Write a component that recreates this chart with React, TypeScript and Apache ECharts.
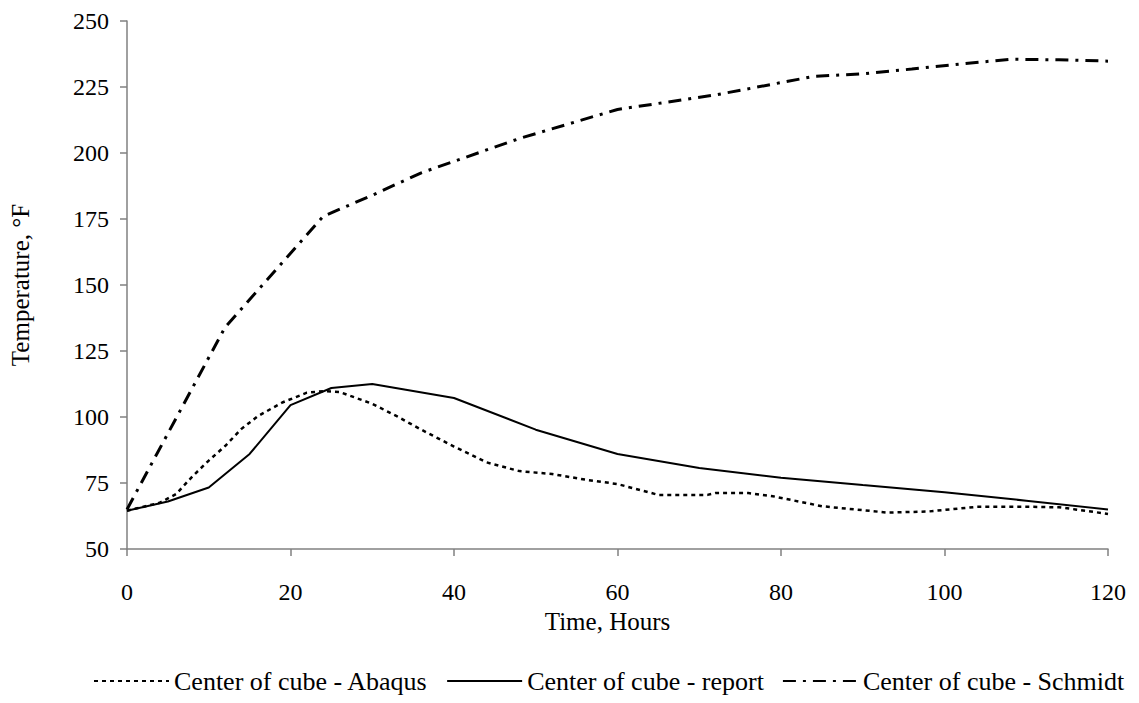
import React, { useEffect, useRef } from "react";
import * as echarts from "echarts";

const abaqusHours = [0, 4, 6, 8, 10, 12, 14, 16, 19, 22, 24, 26, 30, 33, 36, 40, 44, 48, 52, 56, 60, 65, 71, 72, 76, 79, 85, 90, 93, 98, 100, 104, 110, 114, 116, 120];
const abaqusTemps = [64.5, 67.5, 70.8, 77.5, 83.5, 89, 95.5, 100.3, 105.5, 109.2, 109.8, 109.5, 105, 100.3, 95.2, 88.8, 82.8, 79.5, 78.4, 76.3, 74.6, 70.5, 70.5, 71.2, 71.2, 70, 66.2, 64.7, 63.8, 64.2, 64.8, 66, 66, 65.8, 65, 63.3];

const reportHours = [0, 5, 10, 15, 20, 25, 30, 40, 50, 60, 70, 80, 90, 100, 110, 120];
const reportTemps = [64.5, 68, 73.3, 86, 104.5, 111, 112.5, 107.2, 95.2, 86, 80.7, 77, 74.2, 71.5, 68.3, 65];

const schmidtHours = [0, 12, 24, 30, 36, 48, 60, 72, 84, 90, 96, 102, 108, 114, 120];
const schmidtTemps = [65, 134, 176, 184, 192.5, 205.5, 216.5, 222, 229, 230, 231.8, 233.7, 235.5, 235.3, 234.8];

const seriesNames = ["Center of cube - Abaqus", "Center of cube - report", "Center of cube - Schmidt"];
const xTitle = "Time, Hours";
const yTitle = "Temperature, °F";

const zip = (xs: number[], ys: number[]) => xs.map((x, i) => [x, ys[i]]);

export default function App() {
  const ref = useRef<HTMLDivElement>(null);
  useEffect(() => {
    if (!ref.current) return;
    const chart = echarts.init(ref.current, undefined, { renderer: "svg" });
    const font = "'Liberation Serif', 'Times New Roman', serif";
    const tickFs = 24;
    const titleFs = 25;
    chart.setOption({
      animation: false,
      backgroundColor: "#ffffff",
      textStyle: { fontFamily: font, color: "#000" },
      grid: { left: 123, right: 31, top: 21, bottom: 154, containLabel: false },
      legend: {
        left: 88,
        top: 663,
        itemWidth: 75,
        itemHeight: 14,
        itemGap: 18,
        itemStyle: { opacity: 0 },
        textStyle: { fontFamily: font, fontSize: 26, color: "#000" },
        data: seriesNames,
      },
      xAxis: {
        type: "value",
        min: 0,
        max: 120,
        interval: 20,
        name: xTitle,
        nameLocation: "middle",
        nameGap: 55,
        nameTextStyle: { fontFamily: font, fontSize: titleFs, color: "#000", padding: [0, 20, 0, 0] },
        axisLine: { show: true, lineStyle: { color: "#808080", width: 1.5 } },
        axisTick: { show: true, length: 7, lineStyle: { color: "#808080", width: 1.5 } },
        axisLabel: { fontFamily: font, fontSize: tickFs, color: "#000", margin: 31 },
        splitLine: { show: false },
      },
      yAxis: {
        type: "value",
        min: 50,
        max: 250,
        interval: 25,
        name: yTitle,
        nameLocation: "middle",
        nameRotate: 90,
        nameGap: 94,
        nameTextStyle: { fontFamily: font, fontSize: titleFs, color: "#000" },
        axisLine: { show: true, lineStyle: { color: "#808080", width: 1.5 } },
        axisTick: { show: true, length: 7, lineStyle: { color: "#808080", width: 1.5 } },
        axisLabel: { fontFamily: font, fontSize: tickFs, color: "#000", margin: 18 },
        splitLine: { show: false },
      },
      series: [
        {
          name: seriesNames[0],
          type: "line",
          symbol: "none",
          data: zip(abaqusHours, abaqusTemps),
          lineStyle: { color: "#000", width: 2.5, type: [4, 4], cap: "butt" },
          itemStyle: { color: "#000", opacity: 0 },
        },
        {
          name: seriesNames[1],
          type: "line",
          symbol: "none",
          data: zip(reportHours, reportTemps),
          lineStyle: { color: "#000", width: 2 },
          itemStyle: { color: "#000", opacity: 0 },
        },
        {
          name: seriesNames[2],
          type: "line",
          symbol: "none",
          data: zip(schmidtHours, schmidtTemps),
          lineStyle: { color: "#000", width: 3, type: [13, 7, 3, 7], cap: "butt" },
          itemStyle: { color: "#000", opacity: 0 },
        },
      ],
    });
    return () => chart.dispose();
  }, []);
  return <div ref={ref} style={{ width: 1139, height: 703, margin: -8 }} />;
}
